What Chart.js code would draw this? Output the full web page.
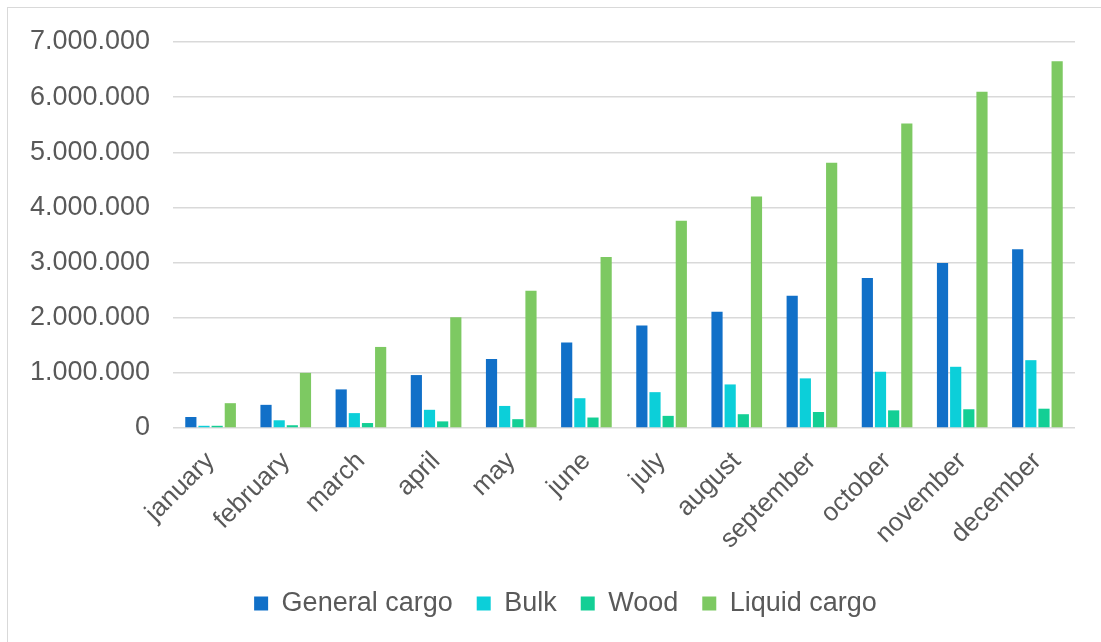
<!DOCTYPE html>
<html>
<head>
<meta charset="utf-8">
<script src="https://cdn.jsdelivr.net/npm/chart.js@4/dist/chart.umd.min.js"></script>
<style>
  html, body { margin: 0; padding: 0; background: #fff; }
  #frame { position: absolute; left: 7px; top: 7px; width: 1110px; height: 650px; border: 1px solid #d9d9d9; }
  #wrap { position: absolute; left: 0; top: 0; width: 1101px; height: 642px; }
</style>
</head>
<body>
<div id="frame"></div>
<div id="wrap"><canvas id="cargoChart" width="1101" height="642"></canvas></div>
<script>
// Monthly cargo volumes
const months = ['january', 'february', 'march', 'april', 'may', 'june',
                'july', 'august', 'september', 'october', 'november', 'december'];
const generalCargo = [200000, 420000, 700000, 960000, 1250000, 1550000, 1860000, 2110000, 2400000, 2720000, 2990000, 3240000];
const bulk = [40000, 140000, 270000, 330000, 400000, 540000, 650000, 790000, 900000, 1020000, 1110000, 1230000];
const wood = [40000, 50000, 90000, 120000, 160000, 190000, 220000, 250000, 290000, 320000, 340000, 350000];
const liquidCargo = [450000, 1000000, 1470000, 2010000, 2490000, 3100000, 3760000, 4200000, 4810000, 5520000, 6100000, 6650000];
const yTicks = [0, 1000000, 2000000, 3000000, 4000000, 5000000, 6000000, 7000000];

const textColor = '#595959';
const fontFamily = '"Liberation Sans", Arial, sans-serif';

function dotted(v) {
    return String(v).replace(/\B(?=(\d{3})+(?!\d))/g, '.');
}

// nudge the legend a bit to the right of the canvas centre
const legendShift = {
    id: 'legendShift',
    afterLayout(chart) {
        if (!chart.legend) return;
        chart.legend.left += 18;
        chart.legend.right += 18;
    }
};

const ctx = document.getElementById('cargoChart').getContext('2d');

new Chart(ctx, {
    type: 'bar',
    data: {
        labels: months,
        datasets: [
            { label: 'General cargo', data: generalCargo, backgroundColor: '#1170c8' },
            { label: 'Bulk', data: bulk, backgroundColor: '#0ccfd9' },
            { label: 'Wood', data: wood, backgroundColor: '#13cf95' },
            { label: 'Liquid cargo', data: liquidCargo, backgroundColor: '#7dc962' }
        ]
    },
    options: {
        responsive: false,
        animation: false,
        devicePixelRatio: 1,
        layout: { padding: { top: 42, left: 20, right: 26, bottom: 15 } },
        datasets: { bar: { categoryPercentage: 0.7, barPercentage: 0.85 } },
        scales: {
            x: {
                grid: { display: false, drawTicks: false },
                border: { display: false },
                ticks: {
                    color: textColor,
                    font: { family: fontFamily, size: 26 },
                    maxRotation: 45, minRotation: 45,
                    autoSkip: false,
                    padding: 18
                },
                afterFit: scale => { scale.height = 138; }
            },
            y: {
                min: 0,
                max: 7000000,
                grid: { color: '#d9d9d9', lineWidth: 1.5, drawTicks: false },
                border: { display: false },
                afterBuildTicks: scale => { scale.ticks = yTicks.map(v => ({ value: v })); },
                ticks: {
                    color: textColor,
                    font: { family: fontFamily, size: 27 },
                    padding: 23,
                    callback: v => dotted(v)
                },
                afterFit: scale => { scale.width = 153; }
            }
        },
        plugins: {
            legend: {
                position: 'bottom',
                labels: {
                    color: textColor,
                    font: { family: fontFamily, size: 27 },
                    boxWidth: 14,
                    boxHeight: 14,
                    padding: 24
                }
            },
            tooltip: { enabled: false }
        }
    },
    plugins: [legendShift]
});
</script>
</body>
</html>
